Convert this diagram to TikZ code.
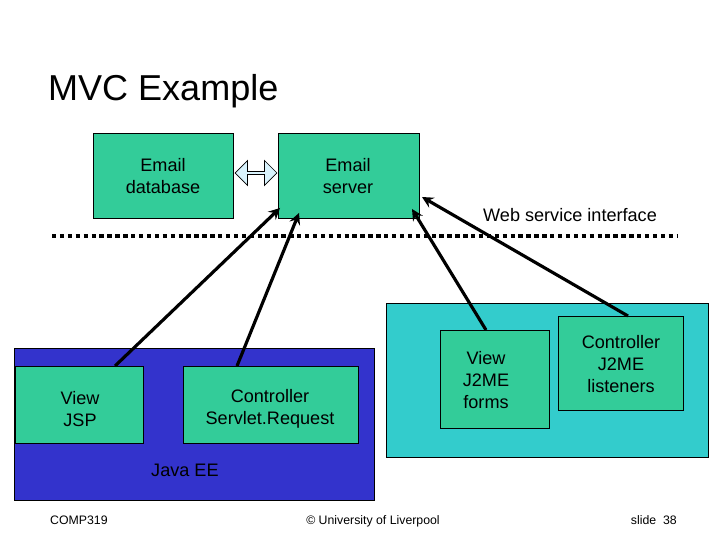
\documentclass[tikz,border=0pt]{standalone}
\usepackage{fontspec}
\setmainfont{Liberation Sans}
\usetikzlibrary{shapes,arrows,positioning,fit,calc}
\definecolor{boxgreen}{RGB}{51,204,153}
\definecolor{panelcyan}{RGB}{51,204,204}
\definecolor{panelblue}{RGB}{51,51,204}
\begin{document}
\begin{tikzpicture}[
    x=0.02cm, y=-0.02cm,
    box/.style={rectangle, draw, fill=boxgreen, align=center, anchor=north west},
    label/.style={font=\fontsize{10.3}{12.5}\selectfont, align=center},
    panel/.style={rectangle, draw, anchor=north west},
    arrow/.style={->, >=stealth, line width=1.8pt},
    foot/.style={font=\fontsize{7}{8}\selectfont}
]
\useasboundingbox (0,0) rectangle (720,540);

% Title
\node[anchor=base west, font=\fontsize{20.5}{24}\selectfont] (title) at (42,101) {MVC Example};

% Server side
\node[box, minimum width=2.8cm, minimum height=1.7cm] (db) at (93,133) {};
\node[label] (dbtext) at (163,176) {Email\\database};
\node[box, minimum width=2.82cm, minimum height=1.7cm] (server) at (278,133) {};
\node[label] (servertext) at (348,176) {Email\\server};
\node[double arrow, draw, fill=cyan!15, minimum height=0.84cm, minimum width=0.5cm,
      double arrow head extend=0.05cm, inner sep=0pt] (link) at (256,173) {};

% Interface line
\node[label, anchor=base west] (wsi) at (477,222) {Web service interface};
\coordinate (lineL) at (52,236);
\coordinate (lineR) at (678,236);
\draw[line width=2.5pt, dotted] (lineL) -- (lineR);

% Panels
\node[panel, fill=panelcyan, minimum width=6.44cm, minimum height=3.08cm] (j2me) at (386,303) {};
\node[panel, fill=panelblue, minimum width=7.2cm, minimum height=3.04cm] (javaee) at (14,348) {};
\node[label, anchor=base west] (eelabel) at (145,476) {Java EE};

% Clients
\node[box, minimum width=2.56cm, minimum height=1.54cm] (jsp) at (15,366) {};
\node[label] at (80,409) {View\\JSP};
\node[box, minimum width=3.5cm, minimum height=1.54cm] (servlet) at (183,366) {};
\node[label] at (270,409) {Controller\\Servlet.Request};
\node[box, minimum width=2.18cm, minimum height=1.96cm] (forms) at (440,330) {};
\node[label] at (486,380) {View\\J2ME\\forms};
\node[box, minimum width=2.5cm, minimum height=1.88cm] (listen) at (558,316) {};
\node[label] at (621,364) {Controller\\J2ME\\listeners};

% Arrows
\draw[arrow] (115,366) -- (280,208);
\draw[arrow] (237,366) -- (299,213);
\draw[arrow] (486,330) -- (412,209);
\draw[arrow] (628,316) -- (422,197);

% Footer
\node[foot, anchor=base west] (course) at (44,524) {COMP319};
\node[foot, anchor=base] (uni) at (373,524) {© University of Liverpool};
\node[foot, anchor=base east] (slide) at (683,524) {slide \ 38};
\end{tikzpicture}
\end{document}
